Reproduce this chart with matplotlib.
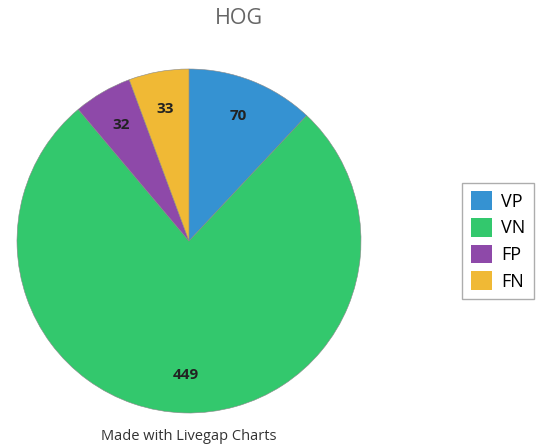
import matplotlib.pyplot as plt
from matplotlib.patches import Patch

etiquetas = ['VP', 'VN', 'FP', 'FN']
valores = [70, 449, 32, 33]
colores = ['#3592d2', '#33c86d', '#8e49a9', '#f0b935']

fig = plt.figure(figsize=(5.37, 4.48), dpi=100)
plt.rcParams['font.family'] = ['Open Sans', 'DejaVu Sans']

ax = fig.add_axes([17 / 537, 35 / 448, 344 / 537, 344 / 448])
ax.pie(valores, colors=colores, startangle=90, counterclock=False,
       autopct=lambda p: '%d' % round(p * sum(valores) / 100),
       pctdistance=0.78, wedgeprops={'linewidth': 0.4, 'edgecolor': '#888888'},
       textprops={'fontsize': 11, 'fontweight': 'bold', 'color': '#222222'})
ax.set_aspect('equal')
ax.set_xlim(-1, 1)
ax.set_ylim(-1, 1)

fig.text(239 / 537, 1 - 18 / 448, 'HOG', ha='center', va='center',
         fontsize=15.5, color='#666666')
fig.text(189 / 537, 1 - 436 / 448, 'Made with Livegap Charts', ha='center',
         va='center', fontsize=10.5, color='#333333')

handles = [Patch(facecolor=c, label=l) for c, l in zip(colores, etiquetas)]
leg = fig.legend(handles=handles, loc='center', bbox_to_anchor=(498 / 537, 1 - 241 / 448),
                 fontsize=13, fancybox=False, edgecolor='#999999', handlelength=1.2,
                 handleheight=1.2, handletextpad=0.5, labelspacing=0.4, borderpad=0.45)
leg.get_frame().set_linewidth(1)

fig.savefig('out.png', dpi=100)
